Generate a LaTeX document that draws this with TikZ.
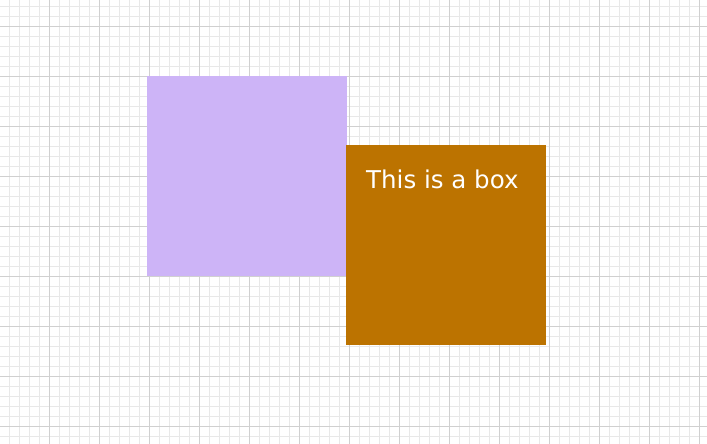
\documentclass[tikz,border=0pt]{standalone}
\usepackage{fontspec}
\setmainfont{DejaVu Sans}
\definecolor{minorgrid}{RGB}{232,232,232}
\definecolor{majorgrid}{RGB}{208,208,208}
\definecolor{boxpurple}{RGB}{205,180,247}
\definecolor{boxorange}{RGB}{188,115,0}
\begin{document}
\begin{tikzpicture}[x=1pt,y=-1pt,
  minorline/.style={draw=minorgrid,line width=0.8pt},
  majorline/.style={draw=majorgrid,line width=0.8pt},
  boxshape/.style={draw=none,inner sep=0pt,minimum width=200pt,minimum height=200pt,anchor=north west},
  boxtext/.style={text=white,font=\fontsize{24.5}{28}\selectfont,inner sep=0pt,anchor=base west}]
\fill[white] (0,0) rectangle (707,444);
\useasboundingbox (0,0) rectangle (707,444);
\foreach \x in {9.5,19.5,...,709} {\draw[minorline] (\x,0) -- (\x,444);}
\foreach \y in {6,16,...,444} {\draw[minorline] (0,\y) -- (707,\y);}
\foreach \x in {49.5,99.5,...,709} {\draw[majorline] (\x,0) -- (\x,444);}
\foreach \y in {26,76,...,444} {\draw[majorline] (0,\y) -- (707,\y);}
\node[boxshape,fill=boxpurple] (purple) at (147,76) {};
\node[boxshape,fill=boxorange] (orange) at (346,145) {};
\node[boxtext] (label) at (366,188.5) {This is a box};
\end{tikzpicture}
\end{document}
